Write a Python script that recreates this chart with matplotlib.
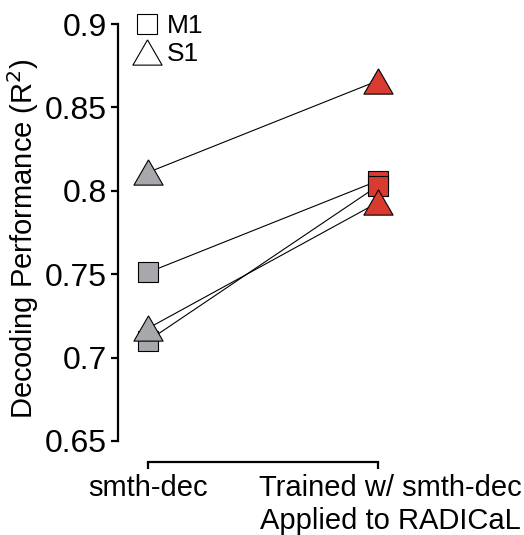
import matplotlib
matplotlib.use("Agg")
import matplotlib.pyplot as plt
from matplotlib.lines import Line2D
from matplotlib.transforms import ScaledTranslation

plt.rcParams["font.family"] = ["Liberation Sans", "DejaVu Sans"]

# decoding performance (R^2) per dataset, before / after
conditions = ["smth-dec", "Trained w/ smth-dec\nApplied to RADICaL"]
areas = ["M1", "M1", "S1", "S1"]
smth_dec = [0.751, 0.710, 0.811, 0.7175]
radical = [0.806, 0.803, 0.866, 0.793]

yticks = [0.65, 0.7, 0.75, 0.8, 0.85, 0.9]
ytick_labels = ["0.65", "0.7", "0.75", "0.8", "0.85", "0.9"]

grey = "#a7a8ac"
red = "#d93b31"
tri = [(0, 0.866), (-1, -0.866), (1, -0.866), (0, 0.866)]  # equilateral
marker_of = {"M1": ("s", 13.7), "S1": (tri, 21)}

W, H = 524, 535
fig = plt.figure(figsize=(W / 100, H / 100), dpi=100)
# axes placed so that the left spine sits at x=118px and bottom spine at y=462px
ax = fig.add_axes([118 / W, (H - 462) / H, 294.5 / W, 446.3 / H])
ax.set_xlim(-0.13, 1.15)
ax.set_ylim(0.65 - 21 * 0.05 / 83, 0.905)

# lines first, then markers (squares below triangles)
for y0, y1 in zip(smth_dec, radical):
    ax.plot([0, 1], [y0, y1], color="black", lw=0.8, zorder=2)
for a, y0, y1 in zip(areas, smth_dec, radical):
    m, ms = marker_of[a]
    z = 3 if a == "M1" else 4
    ax.plot([0], [y0], marker=m, ms=ms, mfc=grey, mec="black", mew=0.8,
            ls="none", zorder=z, clip_on=False)
    ax.plot([1], [y1], marker=m, ms=ms, mfc=red, mec="black", mew=0.8,
            ls="none", zorder=z, clip_on=False)

for s in ["top", "right"]:
    ax.spines[s].set_visible(False)
ax.spines["left"].set_bounds(0.65, 0.9)
ax.spines["bottom"].set_bounds(0, 1)
for s in ["left", "bottom"]:
    ax.spines[s].set_linewidth(1.6)

ax.set_yticks(yticks)
ax.set_yticklabels(ytick_labels)
ax.set_xticks([0, 1])
ax.set_xticklabels(conditions)
ax.tick_params(axis="both", direction="out", length=5, width=1.6,
               labelsize=21, pad=4)
ax.tick_params(axis="y", labelsize=23, pad=3)
# second label sits a bit right of its tick in the original
lab = ax.get_xticklabels()[1]
lab.set_transform(lab.get_transform()
                  + ScaledTranslation(12 / 100, 0, fig.dpi_scale_trans))
ax.set_ylabel("Decoding Performance (R$^2$)", fontsize=21, labelpad=3)

handles = [
    Line2D([], [], marker="s", ms=14, mfc="white", mec="black", mew=0.8,
           ls="none"),
    Line2D([], [], marker=tri, ms=21, mfc="white", mec="black", mew=0.8,
           ls="none"),
]
fig.legend(handles, ["M1", "S1"], loc="upper left",
           bbox_to_anchor=(134 / W, (H - 14) / H), frameon=False,
           fontsize=19, handlelength=1.0, handletextpad=0.25,
           labelspacing=0.15, borderpad=0, borderaxespad=0)

fig.savefig("out.png", dpi=100)
